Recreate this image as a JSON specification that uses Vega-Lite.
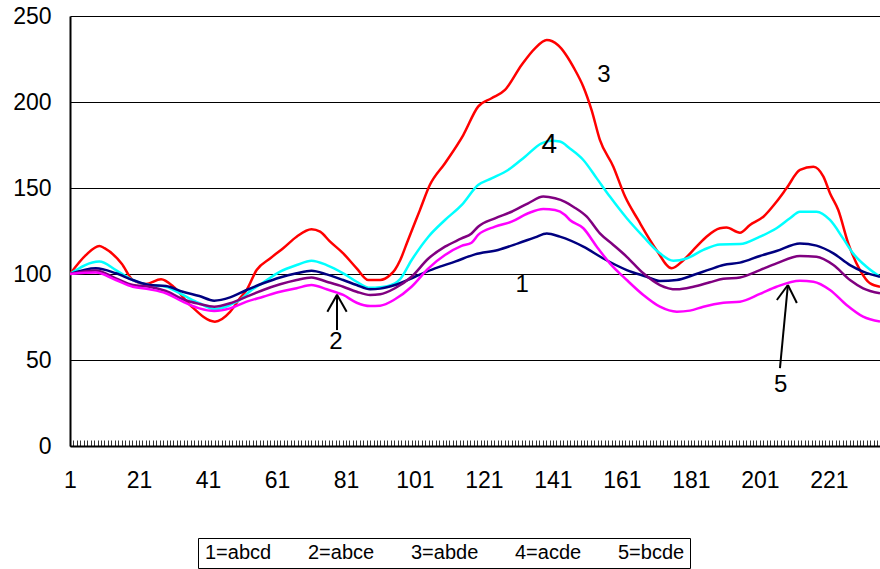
{
  "$schema": "https://vega.github.io/schema/vega-lite/v6.json",
  "width": 810,
  "height": 430,
  "autosize": {"type": "none"},
  "padding": {"left": 70, "top": 16, "right": 0, "bottom": 123},
  "background": "white",
  "config": {
    "view": {"stroke": null},
    "font": "Liberation Sans",
    "axis": {"labelFont": "Liberation Sans", "labelColor": "black", "domainColor": "black", "domainWidth": 2, "titleColor": "black"}
  },
  "datasets": {
    "lines": [
      {"s":"3=abde","x":1,"y":100},{"s":"3=abde","x":5.6,"y":111},{"s":"3=abde","x":9.5,"y":116.3},{"s":"3=abde","x":11,"y":115},{"s":"3=abde","x":16,"y":106},{"s":"3=abde","x":19.2,"y":96.5},{"s":"3=abde","x":23,"y":94.2},{"s":"3=abde","x":27.4,"y":96.9},{"s":"3=abde","x":31,"y":92.6},{"s":"3=abde","x":35.8,"y":82},{"s":"3=abde","x":43,"y":72.3},{"s":"3=abde","x":47.4,"y":78},{"s":"3=abde","x":50.3,"y":86},{"s":"3=abde","x":52.2,"y":90.7},{"s":"3=abde","x":55.1,"y":102.3},{"s":"3=abde","x":59,"y":109},{"s":"3=abde","x":62.8,"y":115},{"s":"3=abde","x":66.7,"y":121.7},{"s":"3=abde","x":71,"y":126},{"s":"3=abde","x":73.5,"y":124.6},{"s":"3=abde","x":76.4,"y":118.8},{"s":"3=abde","x":80.2,"y":112},{"s":"3=abde","x":84.1,"y":103.3},{"s":"3=abde","x":87.5,"y":96.5},{"s":"3=abde","x":90.9,"y":96.5},{"s":"3=abde","x":93.8,"y":99.4},{"s":"3=abde","x":95.2,"y":102.5},{"s":"3=abde","x":96.7,"y":108},{"s":"3=abde","x":99,"y":119.8},{"s":"3=abde","x":102.4,"y":137},{"s":"3=abde","x":105.3,"y":151.7},{"s":"3=abde","x":109.7,"y":164.4},{"s":"3=abde","x":115,"y":180.8},{"s":"3=abde","x":119.3,"y":197.3},{"s":"3=abde","x":123.2,"y":202.2},{"s":"3=abde","x":127.1,"y":207},{"s":"3=abde","x":131.9,"y":221.5},{"s":"3=abde","x":135.8,"y":231.2},{"s":"3=abde","x":139.2,"y":236},{"s":"3=abde","x":142.5,"y":233},{"s":"3=abde","x":147.4,"y":218.6},{"s":"3=abde","x":149.8,"y":208.9},{"s":"3=abde","x":152.2,"y":195.3},{"s":"3=abde","x":154.6,"y":178},{"s":"3=abde","x":158.5,"y":162.4},{"s":"3=abde","x":161.9,"y":145},{"s":"3=abde","x":165.7,"y":131.4},{"s":"3=abde","x":171,"y":114},{"s":"3=abde","x":175.4,"y":103.3},{"s":"3=abde","x":178.8,"y":108},{"s":"3=abde","x":182.6,"y":115.9},{"s":"3=abde","x":185.5,"y":121.7},{"s":"3=abde","x":189.4,"y":126.6},{"s":"3=abde","x":191.3,"y":127},{"s":"3=abde","x":195.2,"y":124},{"s":"3=abde","x":198.1,"y":128.5},{"s":"3=abde","x":202,"y":133.3},{"s":"3=abde","x":205.8,"y":142},{"s":"3=abde","x":208.7,"y":149.8},{"s":"3=abde","x":212.6,"y":160.5},{"s":"3=abde","x":216.5,"y":162.4},{"s":"3=abde","x":219.4,"y":156.6},{"s":"3=abde","x":221.3,"y":147},{"s":"3=abde","x":223.7,"y":137.2},{"s":"3=abde","x":226.6,"y":117.8},{"s":"3=abde","x":230,"y":102.3},{"s":"3=abde","x":232.9,"y":94.6},{"s":"3=abde","x":235.8,"y":92.6},

      {"s":"4=acde","x":1,"y":100},{"s":"4=acde","x":9.5,"y":107.2},{"s":"4=acde","x":14.3,"y":102.3},{"s":"4=acde","x":19.2,"y":96.5},{"s":"4=acde","x":24,"y":93.6},{"s":"4=acde","x":28.8,"y":92.6},{"s":"4=acde","x":33.7,"y":87.8},{"s":"4=acde","x":38.5,"y":83},{"s":"4=acde","x":43,"y":79.5},{"s":"4=acde","x":47.4,"y":82},{"s":"4=acde","x":50.3,"y":85},{"s":"4=acde","x":53.2,"y":90},{"s":"4=acde","x":57,"y":95},{"s":"4=acde","x":61.9,"y":101.4},{"s":"4=acde","x":66.7,"y":105.2},{"s":"4=acde","x":71,"y":107.7},{"s":"4=acde","x":75.4,"y":105.2},{"s":"4=acde","x":80.2,"y":100.4},{"s":"4=acde","x":84.1,"y":95.5},{"s":"4=acde","x":88,"y":92},{"s":"4=acde","x":90.9,"y":92.3},{"s":"4=acde","x":95.2,"y":94.6},{"s":"4=acde","x":96.7,"y":97},{"s":"4=acde","x":100,"y":108},{"s":"4=acde","x":104.9,"y":121.7},{"s":"4=acde","x":109.7,"y":131.4},{"s":"4=acde","x":114.5,"y":140},{"s":"4=acde","x":119.3,"y":151.7},{"s":"4=acde","x":123.2,"y":155.6},{"s":"4=acde","x":128,"y":160.5},{"s":"4=acde","x":132.9,"y":168.2},{"s":"4=acde","x":137.7,"y":176},{"s":"4=acde","x":140.6,"y":177.5},{"s":"4=acde","x":143,"y":177},{"s":"4=acde","x":145.9,"y":173},{"s":"4=acde","x":149.8,"y":166.3},{"s":"4=acde","x":153.7,"y":155.6},{"s":"4=acde","x":157.5,"y":145},{"s":"4=acde","x":162.4,"y":132.4},{"s":"4=acde","x":167.2,"y":121.7},{"s":"4=acde","x":172,"y":112},{"s":"4=acde","x":175.9,"y":107.7},{"s":"4=acde","x":179.7,"y":109},{"s":"4=acde","x":184.6,"y":114},{"s":"4=acde","x":189.4,"y":117.2},{"s":"4=acde","x":195.2,"y":117.4},{"s":"4=acde","x":201,"y":121.7},{"s":"4=acde","x":205.8,"y":126.6},{"s":"4=acde","x":209.7,"y":132.4},{"s":"4=acde","x":212.6,"y":136.2},{"s":"4=acde","x":217.4,"y":136.2},{"s":"4=acde","x":221.3,"y":131.4},{"s":"4=acde","x":225.1,"y":120.7},{"s":"4=acde","x":228,"y":112},{"s":"4=acde","x":231.9,"y":104.2},{"s":"4=acde","x":235.8,"y":98.4},

      {"s":"1=abcd","x":1,"y":100},{"s":"1=abcd","x":8.5,"y":103.3},{"s":"1=abcd","x":14.3,"y":100.4},{"s":"1=abcd","x":19.2,"y":96.5},{"s":"1=abcd","x":24,"y":93.6},{"s":"1=abcd","x":28.8,"y":93},{"s":"1=abcd","x":33.7,"y":89.7},{"s":"1=abcd","x":38.5,"y":87.2},{"s":"1=abcd","x":42.8,"y":84.5},{"s":"1=abcd","x":47.4,"y":86.4},{"s":"1=abcd","x":52.2,"y":90.7},{"s":"1=abcd","x":57,"y":94.6},{"s":"1=abcd","x":61.9,"y":98},{"s":"1=abcd","x":66.7,"y":100.4},{"s":"1=abcd","x":71,"y":101.9},{"s":"1=abcd","x":75.4,"y":99.8},{"s":"1=abcd","x":80.2,"y":96.5},{"s":"1=abcd","x":84.1,"y":93.6},{"s":"1=abcd","x":88,"y":91.1},{"s":"1=abcd","x":90.9,"y":91.5},{"s":"1=abcd","x":95.2,"y":93.6},{"s":"1=abcd","x":101,"y":98.4},{"s":"1=abcd","x":106.8,"y":103.3},{"s":"1=abcd","x":112.6,"y":107.2},{"s":"1=abcd","x":118.4,"y":111.4},{"s":"1=abcd","x":125.1,"y":114},{"s":"1=abcd","x":130.9,"y":117.8},{"s":"1=abcd","x":135.8,"y":121.3},{"s":"1=abcd","x":139.2,"y":123.6},{"s":"1=abcd","x":143,"y":121.7},{"s":"1=abcd","x":149.8,"y":115.9},{"s":"1=abcd","x":155.6,"y":109},{"s":"1=abcd","x":162.4,"y":102.3},{"s":"1=abcd","x":168.2,"y":98.4},{"s":"1=abcd","x":172,"y":95.9},{"s":"1=abcd","x":176.9,"y":96.5},{"s":"1=abcd","x":181.7,"y":99.4},{"s":"1=abcd","x":186.5,"y":102.7},{"s":"1=abcd","x":190.4,"y":105.2},{"s":"1=abcd","x":195.2,"y":106.6},{"s":"1=abcd","x":201,"y":110.5},{"s":"1=abcd","x":205.8,"y":113.4},{"s":"1=abcd","x":212.6,"y":117.8},{"s":"1=abcd","x":217.4,"y":116.5},{"s":"1=abcd","x":222.3,"y":112},{"s":"1=abcd","x":227.1,"y":105.2},{"s":"1=abcd","x":230.9,"y":101.4},{"s":"1=abcd","x":235.8,"y":98.4},

      {"s":"2=abce","x":1,"y":100},{"s":"2=abce","x":8.5,"y":102},{"s":"2=abce","x":14.3,"y":97.5},{"s":"2=abce","x":19.2,"y":93.6},{"s":"2=abce","x":24,"y":92.6},{"s":"2=abce","x":28.8,"y":90.1},{"s":"2=abce","x":33.7,"y":85.3},{"s":"2=abce","x":38.5,"y":82.6},{"s":"2=abce","x":42.8,"y":81},{"s":"2=abce","x":47.4,"y":83},{"s":"2=abce","x":52.2,"y":86.8},{"s":"2=abce","x":57,"y":90.7},{"s":"2=abce","x":61.9,"y":94},{"s":"2=abce","x":66.7,"y":96.5},{"s":"2=abce","x":71,"y":98},{"s":"2=abce","x":75.4,"y":95.5},{"s":"2=abce","x":80.2,"y":92.6},{"s":"2=abce","x":84.1,"y":89.7},{"s":"2=abce","x":88,"y":87.8},{"s":"2=abce","x":90.9,"y":88.2},{"s":"2=abce","x":95.2,"y":91.7},{"s":"2=abce","x":100,"y":98.4},{"s":"2=abce","x":104.9,"y":109},{"s":"2=abce","x":109.7,"y":115.9},{"s":"2=abce","x":114.5,"y":120.7},{"s":"2=abce","x":117.4,"y":123.6},{"s":"2=abce","x":119.3,"y":127.5},{"s":"2=abce","x":124.2,"y":132.4},{"s":"2=abce","x":129,"y":136.2},{"s":"2=abce","x":133.8,"y":141.1},{"s":"2=abce","x":138.2,"y":145},{"s":"2=abce","x":141.6,"y":144},{"s":"2=abce","x":144.5,"y":142},{"s":"2=abce","x":146.9,"y":139.1},{"s":"2=abce","x":150.8,"y":133.3},{"s":"2=abce","x":154.6,"y":123.6},{"s":"2=abce","x":158.5,"y":116.9},{"s":"2=abce","x":162.4,"y":110},{"s":"2=abce","x":167.2,"y":100.4},{"s":"2=abce","x":172,"y":93.6},{"s":"2=abce","x":176.9,"y":91.1},{"s":"2=abce","x":181.7,"y":92.6},{"s":"2=abce","x":186.5,"y":95.2},{"s":"2=abce","x":190.4,"y":97.2},{"s":"2=abce","x":195.2,"y":98},{"s":"2=abce","x":201,"y":102.3},{"s":"2=abce","x":205.8,"y":106.2},{"s":"2=abce","x":212.6,"y":110.5},{"s":"2=abce","x":217.4,"y":110},{"s":"2=abce","x":222.3,"y":105.2},{"s":"2=abce","x":227.1,"y":96.5},{"s":"2=abce","x":230.9,"y":91.7},{"s":"2=abce","x":235.8,"y":88.8},

      {"s":"5=bcde","x":1,"y":100},{"s":"5=bcde","x":8.5,"y":100.8},{"s":"5=bcde","x":14.3,"y":96.5},{"s":"5=bcde","x":19.2,"y":92.6},{"s":"5=bcde","x":24,"y":91.1},{"s":"5=bcde","x":28.8,"y":88.8},{"s":"5=bcde","x":33.7,"y":83.9},{"s":"5=bcde","x":38.5,"y":80},{"s":"5=bcde","x":42.8,"y":78.5},{"s":"5=bcde","x":47.4,"y":80},{"s":"5=bcde","x":52.2,"y":83.9},{"s":"5=bcde","x":57,"y":86.8},{"s":"5=bcde","x":61.9,"y":89.7},{"s":"5=bcde","x":66.7,"y":91.7},{"s":"5=bcde","x":71,"y":93.6},{"s":"5=bcde","x":75.4,"y":91.1},{"s":"5=bcde","x":80.2,"y":87.8},{"s":"5=bcde","x":84.1,"y":83.3},{"s":"5=bcde","x":88,"y":81.4},{"s":"5=bcde","x":90.9,"y":81.6},{"s":"5=bcde","x":95.2,"y":85.3},{"s":"5=bcde","x":100,"y":92.6},{"s":"5=bcde","x":104.9,"y":103.3},{"s":"5=bcde","x":109.7,"y":111},{"s":"5=bcde","x":114.5,"y":116.3},{"s":"5=bcde","x":117.4,"y":118.2},{"s":"5=bcde","x":119.3,"y":122.7},{"s":"5=bcde","x":124.2,"y":127.5},{"s":"5=bcde","x":129,"y":130.4},{"s":"5=bcde","x":133.8,"y":135.3},{"s":"5=bcde","x":138.2,"y":137.8},{"s":"5=bcde","x":141.6,"y":137.2},{"s":"5=bcde","x":144.5,"y":134.3},{"s":"5=bcde","x":145.9,"y":131.4},{"s":"5=bcde","x":149.8,"y":126.6},{"s":"5=bcde","x":153.7,"y":115.9},{"s":"5=bcde","x":157.5,"y":106.2},{"s":"5=bcde","x":162.4,"y":96.5},{"s":"5=bcde","x":167.2,"y":87.8},{"s":"5=bcde","x":172,"y":81},{"s":"5=bcde","x":176.9,"y":78.1},{"s":"5=bcde","x":180.7,"y":78.7},{"s":"5=bcde","x":184.6,"y":81},{"s":"5=bcde","x":190.4,"y":83.3},{"s":"5=bcde","x":195.2,"y":83.9},{"s":"5=bcde","x":201,"y":88.4},{"s":"5=bcde","x":205.8,"y":92.6},{"s":"5=bcde","x":212.6,"y":96.1},{"s":"5=bcde","x":216.5,"y":95.5},{"s":"5=bcde","x":221.3,"y":90.7},{"s":"5=bcde","x":226.1,"y":82},{"s":"5=bcde","x":230.9,"y":75.2},{"s":"5=bcde","x":235.8,"y":72.3}
    ],
    "arrows": [
      {"x":78.4,"y":88,"x2":78.4,"y2":67.4},
      {"x":78.4,"y":88,"x2":75.6,"y2":78},
      {"x":78.4,"y":88,"x2":81.2,"y2":78},
      {"x":209.1,"y":93.6,"x2":206.8,"y2":45.3},
      {"x":209.1,"y":93.6,"x2":205.9,"y2":84.9},
      {"x":209.1,"y":93.6,"x2":211.7,"y2":83.1}
    ],
    "labels": [
      {"t":"3","x":155.8,"y":215.5},
      {"t":"1","x":132.1,"y":93.6},
      {"t":"2","x":78.1,"y":60.5},
      {"t":"5","x":207,"y":35.5}
    ],
    "big": [
      {"t":"4","x":139.9,"y":175}
    ]
  },
  "layer": [
    {
      "data": {"name": "lines"},
      "mark": {"type": "line", "strokeWidth": 2.5, "interpolate": "monotone", "clip": true},
      "encoding": {
        "x": {"field": "x", "type": "quantitative",
              "scale": {"domain": [1, 235.8], "nice": false, "zero": false},
              "axis": {"title": null, "tickCount": 235, "grid": false, "tickSize": -6, "tickColor": "#333333", "tickWidth": 1,
                       "labelExpr": "(datum.value - 1) % 20 == 0 ? format(datum.value, 'd') : ''",
                       "labelOverlap": false, "labelBound": false, "labelFlush": false, "labelFontSize": 23, "labelPadding": 29}},
        "y": {"field": "y", "type": "quantitative",
              "scale": {"domain": [0, 250], "nice": false},
              "axis": {"title": null, "values": [0, 50, 100, 150, 200, 250], "grid": true, "gridColor": "black", "gridWidth": 1, "gridOpacity": 1,
                       "ticks": false, "labelFontSize": 23, "labelPadding": 19}},
        "color": {"field": "s", "type": "nominal",
                  "scale": {"domain": ["1=abcd", "2=abce", "3=abde", "4=acde", "5=bcde"], "range": ["#000080", "#800080", "#FF0000", "#00FFFF", "#FF00FF"]},
                  "legend": {"title": null, "orient": "none", "legendX": 128, "legendY": 522, "direction": "horizontal", "columns": 5,
                             "symbolSize": 0, "symbolOpacity": 0, "symbolStrokeWidth": 0, "labelOffset": -18,
                             "labelFontSize": 20, "labelFont": "Liberation Sans", "labelColor": "black", "columnPadding": 34,
                             "strokeColor": "black", "padding": 5}}
      }
    },
    {
      "data": {"name": "arrows"},
      "mark": {"type": "rule", "color": "black", "strokeWidth": 2},
      "encoding": {
        "x": {"field": "x", "type": "quantitative"},
        "y": {"field": "y", "type": "quantitative"},
        "x2": {"field": "x2"},
        "y2": {"field": "y2"}
      }
    },
    {
      "data": {"name": "labels"},
      "mark": {"type": "text", "fontSize": 24, "font": "Liberation Sans", "color": "black", "align": "center", "baseline": "middle"},
      "encoding": {
        "x": {"field": "x", "type": "quantitative"},
        "y": {"field": "y", "type": "quantitative"},
        "text": {"field": "t"}
      }
    },
    {
      "data": {"name": "big"},
      "mark": {"type": "text", "fontSize": 28, "font": "Liberation Sans", "color": "black", "align": "center", "baseline": "middle"},
      "encoding": {
        "x": {"field": "x", "type": "quantitative"},
        "y": {"field": "y", "type": "quantitative"},
        "text": {"field": "t"}
      }
    }
  ]
}
